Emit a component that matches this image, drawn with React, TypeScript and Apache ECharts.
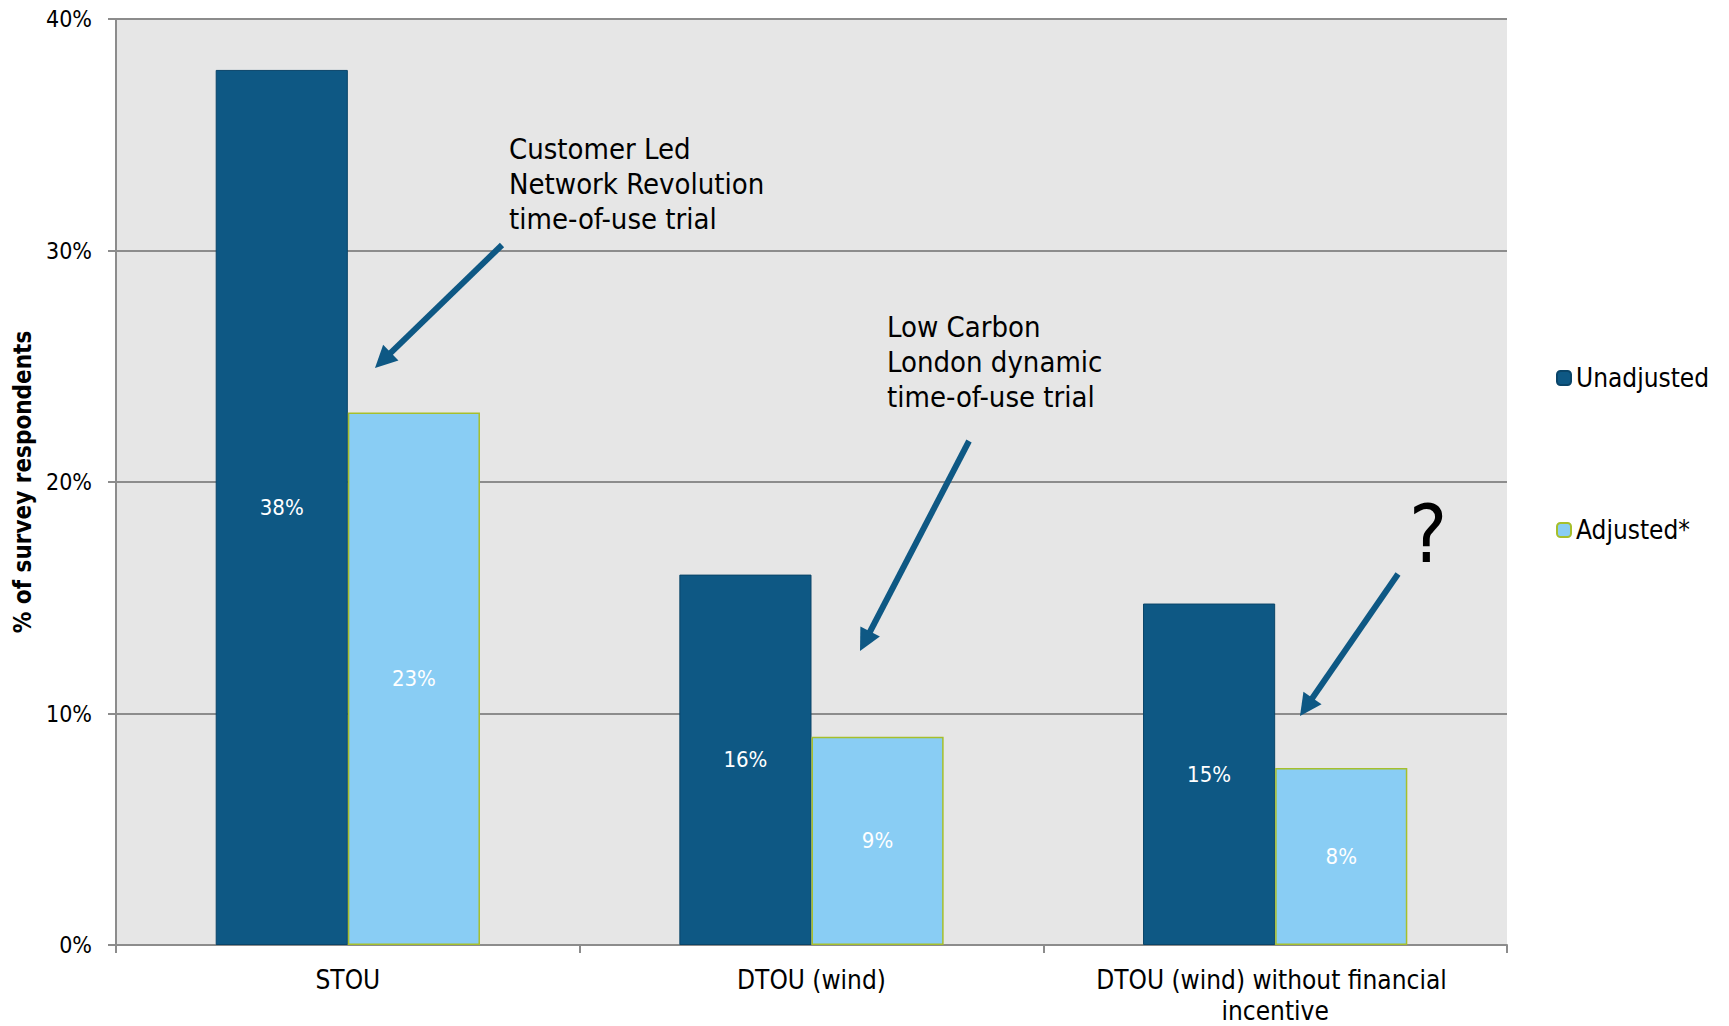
import React, { useEffect, useRef } from "react";
import * as echarts from "echarts";

const categories = ["STOU", "DTOU (wind)", "DTOU (wind) without financial incentive"];
const seriesNames = ["Unadjusted", "Adjusted*"];
const unadjusted = [37.8, 16.0, 14.75];
const adjusted = [23.0, 9.0, 7.65];
const yMin = 0;
const yMax = 40;
const yInterval = 10;

const annotation1 = ["Customer Led", "Network Revolution", "time-of-use trial"];
const annotation2 = ["Low Carbon", "London dynamic", "time-of-use trial"];

const FONT = "'DejaVu Sans Condensed', 'Liberation Sans Narrow', 'DejaVu Sans', sans-serif";
const DARK = "#0e5884";
const LIGHT = "#89cdf4";

function arrow(x1: number, y1: number, x2: number, y2: number) {
  const dx = x2 - x1;
  const dy = y2 - y1;
  const len = Math.sqrt(dx * dx + dy * dy);
  const ux = dx / len;
  const uy = dy / len;
  const headLen = 22;
  const headW = 11;
  const bx = x2 - ux * headLen;
  const by = y2 - uy * headLen;
  const px = -uy;
  const py = ux;
  return [
    {
      type: "line",
      shape: { x1, y1, x2: bx + ux * 2, y2: by + uy * 2 },
      style: { stroke: DARK, lineWidth: 6 },
      z: 100,
    },
    {
      type: "polygon",
      shape: {
        points: [
          [x2, y2],
          [bx + px * headW, by + py * headW],
          [bx - px * headW, by - py * headW],
        ],
      },
      style: { fill: DARK },
      z: 100,
    },
  ];
}

export default function App() {
  const ref = useRef<HTMLDivElement>(null);
  useEffect(() => {
    if (!ref.current) return;
    const chart = echarts.init(ref.current, null, { renderer: "svg" });
    const labelCfg = {
      show: true,
      position: "inside",
      color: "#ffffff",
      fontSize: 22,
      fontFamily: FONT,
      formatter: (p: any) => Math.round(p.value) + "%",
    };
    chart.setOption({
      animation: false,
      backgroundColor: "#ffffff",
      grid: {
        left: 116,
        right: 222,
        top: 19,
        bottom: 80,
        show: true,
        backgroundColor: "#e6e6e6",
        borderWidth: 0,
      },
      legend: {
        orient: "vertical",
        left: 1551,
        top: 360,
        itemWidth: 14,
        itemHeight: 14,
        itemGap: 126,
        textStyle: { fontSize: 26, fontFamily: FONT, color: "#000", lineHeight: 26 },
        data: seriesNames,
      },
      xAxis: {
        type: "category",
        data: categories,
        axisLine: { show: true, lineStyle: { color: "#8c8c8c", width: 2 } },
        axisTick: { show: true, length: 8, lineStyle: { color: "#8c8c8c", width: 2 } },
        axisLabel: {
          fontSize: 26,
          fontFamily: FONT,
          color: "#000",
          margin: 19,
          lineHeight: 31,
          width: 400,
          overflow: "break",
          interval: 0,
        },
      },
      yAxis: {
        type: "value",
        min: yMin,
        max: yMax,
        interval: yInterval,
        name: "% of survey respondents",
        nameLocation: "middle",
        nameGap: 79,
        nameTextStyle: { fontSize: 24, fontWeight: "bold", fontFamily: FONT, color: "#000" },
        axisLine: { show: true, lineStyle: { color: "#8c8c8c", width: 2 } },
        axisTick: { show: true, length: 8, lineStyle: { color: "#8c8c8c", width: 2 } },
        axisLabel: {
          formatter: "{value}%",
          fontSize: 23,
          fontFamily: FONT,
          color: "#000",
          margin: 24,
        },
        splitLine: { show: true, lineStyle: { color: "#8c8c8c", width: 2 } },
      },
      series: [
        {
          name: seriesNames[0],
          type: "bar",
          data: unadjusted,
          barGap: "0%",
          barCategoryGap: "43%",
          itemStyle: { color: DARK, borderColor: "#0a4569", borderWidth: 1 },
          label: labelCfg,
        },
        {
          name: seriesNames[1],
          type: "bar",
          data: adjusted,
          itemStyle: { color: LIGHT, borderColor: "#a6bf2c", borderWidth: 1.5 },
          label: labelCfg,
        },
      ],
      graphic: [
        {
          type: "text",
          left: 509,
          top: 131,
          style: {
            text: annotation1.join("\n"),
            font: `29px ${FONT}`,
            fill: "#000",
            lineHeight: 35,
          },
          z: 100,
        },
        {
          type: "text",
          left: 887,
          top: 309,
          style: {
            text: annotation2.join("\n"),
            font: `29px ${FONT}`,
            fill: "#000",
            lineHeight: 35,
          },
          z: 100,
        },
        {
          type: "text",
          x: 1428,
          y: 534,
          style: {
            text: "?",
            font: `80px ${FONT}`,
            fill: "#000",
            align: "center",
            verticalAlign: "middle",
          },
          z: 100,
        },
        ...arrow(502, 245, 375, 368),
        ...arrow(969, 441, 860, 651),
        ...arrow(1398, 574, 1300, 716),
      ],
    });
    return () => chart.dispose();
  }, []);
  return (
    <div
      ref={ref}
      style={{ position: "fixed", left: 0, top: 0, width: 1729, height: 1026 }}
    />
  );
}
